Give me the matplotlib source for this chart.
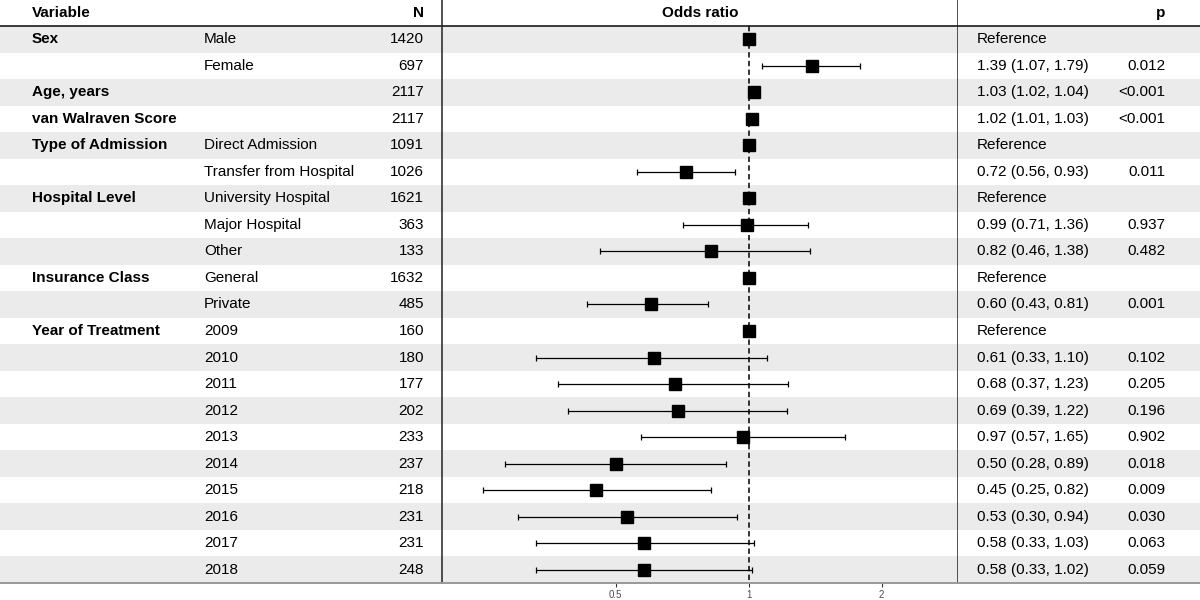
import numpy as np
import matplotlib
matplotlib.use('Agg')
import matplotlib.pyplot as plt

plt.rcParams['font.family'] = ['Liberation Sans', 'DejaVu Sans']

# Table data
variables = ['Sex', '', 'Age, years', 'van Walraven Score', 'Type of Admission', '',
             'Hospital Level', '', '', 'Insurance Class', '', 'Year of Treatment',
             '', '', '', '', '', '', '', '', '']
levels = ['Male', 'Female', '', '', 'Direct Admission', 'Transfer from Hospital',
          'University Hospital', 'Major Hospital', 'Other', 'General', 'Private',
          '2009', '2010', '2011', '2012', '2013', '2014', '2015', '2016', '2017', '2018']
n_obs = [1420, 697, 2117, 2117, 1091, 1026, 1621, 363, 133, 1632, 485,
         160, 180, 177, 202, 233, 237, 218, 231, 231, 248]
# None = reference level
odds = [1.0, 1.39, 1.03, 1.02, 1.0, 0.72, 1.0, 0.99, 0.82, 1.0, 0.60,
        1.0, 0.61, 0.68, 0.69, 0.97, 0.50, 0.45, 0.53, 0.58, 0.58]
ci_low = [None, 1.07, 1.02, 1.01, None, 0.56, None, 0.71, 0.46, None, 0.43,
          None, 0.33, 0.37, 0.39, 0.57, 0.28, 0.25, 0.30, 0.33, 0.33]
ci_high = [None, 1.79, 1.04, 1.03, None, 0.93, None, 1.36, 1.38, None, 0.81,
           None, 1.10, 1.23, 1.22, 1.65, 0.89, 0.82, 0.94, 1.03, 1.02]
p_text = ['', '0.012', '<0.001', '<0.001', '', '0.011', '', '0.937', '0.482', '', '0.001',
          '', '0.102', '0.205', '0.196', '0.902', '0.018', '0.009', '0.030', '0.063', '0.059']
x_ticks = [0.5, 1, 2]
x_ticklabels = ['0.5', '1', '2']

rows = np.arange(1, len(levels) + 1)
W, H = 1200, 600
fig = plt.figure(figsize=(12, 6), dpi=100)

bot = (H - 583) / H
hgt = 583 / H
ax_l = fig.add_axes([0, bot, 442 / W, hgt])
ax_m = fig.add_axes([442 / W, bot, 516 / W, hgt], sharey=ax_l)
ax_r = fig.add_axes([958 / W, bot, 242 / W, hgt], sharey=ax_l)

row_px = 557 / 21
y_top = 0.5 - 26 / row_px
ax_l.set_ylim(21.5, y_top)

band = '#EBEBEB'
for ax in (ax_l, ax_m, ax_r):
    for r in rows:
        if r % 2 == 1:
            ax.axhspan(r - 0.5, r + 0.5, color=band, lw=0, zorder=0)
    ax.axhline(0.5, color='#1A1A1A', lw=1.2, zorder=3)
    ax.axhline(21.5, color='#999999', lw=1.4, zorder=3, clip_on=False)
    for s in ax.spines.values():
        s.set_visible(False)
    ax.tick_params(left=False, labelleft=False)

fs = 11
# left table
ax_l.set_xlim(0, 442)
ax_l.set_xticks([])
ax_l.text(32, 0, 'Variable', fontsize=fs, fontweight='bold', va='center', ha='left')
ax_l.text(424, 0, 'N', fontsize=fs, fontweight='bold', va='center', ha='right')
for r, v, lv, n in zip(rows, variables, levels, n_obs):
    if v:
        ax_l.text(32, r, v, fontsize=fs, fontweight='bold', va='center', ha='left')
    ax_l.text(204, r, lv, fontsize=fs, va='center', ha='left')
    ax_l.text(424, r, str(n), fontsize=fs, va='center', ha='right')

# right table
ax_r.set_xlim(0, 242)
ax_r.set_xticks([])
ax_r.text(207, 0, 'p', fontsize=fs, fontweight='bold', va='center', ha='right')
for r, o, lo, hi, p in zip(rows, odds, ci_low, ci_high, p_text):
    if lo is None:
        est = 'Reference'
    else:
        est = f'{o:.2f} ({lo:.2f}, {hi:.2f})'
    ax_r.text(19, r, est, fontsize=fs, va='center', ha='left')
    ax_r.text(207, r, p, fontsize=fs, va='center', ha='right')

# forest panel
ax_m.set_xscale('log')
ax_m.set_xlim(0.202, 2.98)
ax_m.text(np.sqrt(0.202 * 2.98), 0, 'Odds ratio', fontsize=fs, fontweight='bold',
          va='center', ha='center')
ax_m.vlines(1, 0.5, 21.5, colors='black', lw=1.1, linestyles=(0, (3.5, 2.2)), zorder=2)
for r, o, lo, hi in zip(rows, odds, ci_low, ci_high):
    if lo is not None:
        ax_m.errorbar(o, r, xerr=[[o - lo], [hi - o]], fmt='none', ecolor='black',
                      elinewidth=0.9, capsize=2.3, capthick=0.9, zorder=4)
    ax_m.plot(o, r, marker='s', ms=9, color='black', zorder=5)

for side in ('left', 'right'):
    ax_m.spines[side].set_visible(True)
    ax_m.spines[side].set_color('#333333')
    ax_m.spines[side].set_linewidth(1.2)
    ax_m.spines[side].set_bounds(21.5, y_top)
ax_m.set_xticks(x_ticks)
ax_m.set_xticklabels(x_ticklabels)
ax_m.xaxis.set_minor_locator(matplotlib.ticker.NullLocator())
ax_m.tick_params(axis='x', length=3, width=0.8, color='#333333', labelsize=7,
                 labelcolor='#4D4D4D', pad=2)

fig.savefig('out.png', dpi=100)
